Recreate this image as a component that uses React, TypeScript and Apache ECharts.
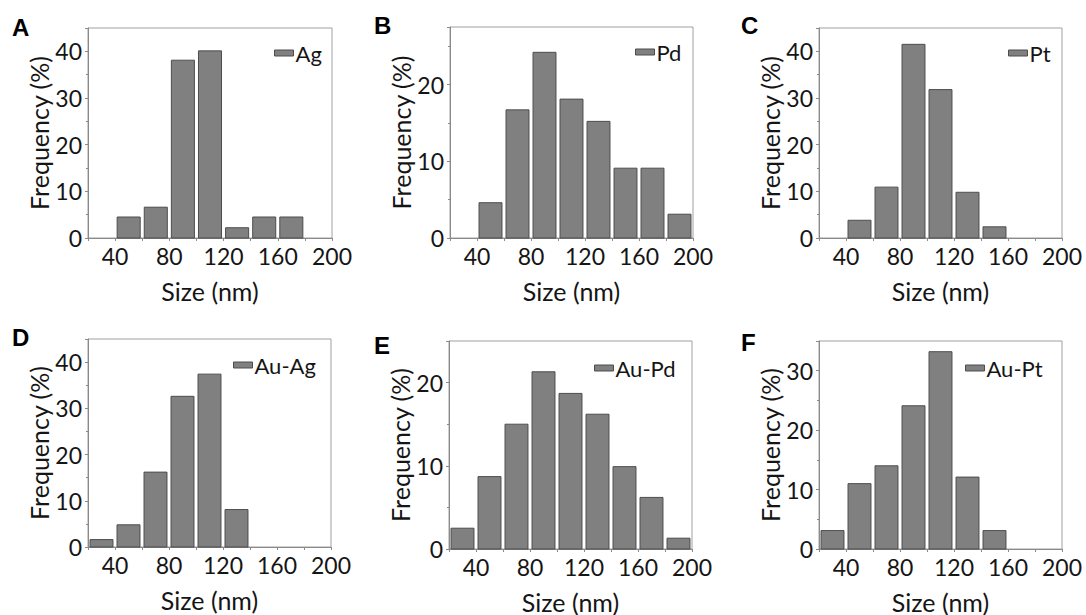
import React, { useEffect, useRef } from "react";
import * as echarts from "echarts";

// ---- data ----
const SIZE_BINS = [30, 50, 70, 90, 110, 130, 150, 170, 190]; // bin centres (nm), bin width 20
const BIN_WIDTH = 20;
const X_TICKS = [40, 80, 120, 160, 200];

const FREQ_AG = [0, 4.5, 6.6, 38.1, 40.1, 2.2, 4.5, 4.5, 0];
const FREQ_PD = [0, 4.6, 16.7, 24.2, 18.1, 15.2, 9.1, 9.1, 3.1];
const FREQ_PT = [0, 3.8, 10.9, 41.5, 31.8, 9.8, 2.4, 0, 0];
const FREQ_AUAG = [1.6, 4.8, 16.2, 32.6, 37.4, 8.1, 0, 0, 0];
const FREQ_AUPD = [2.5, 8.7, 15.0, 21.3, 18.7, 16.2, 9.9, 6.2, 1.3];
const FREQ_AUPT = [3.1, 11.0, 14.0, 24.1, 33.2, 12.1, 3.1, 0, 0];

const PANEL_LETTERS = ["A", "B", "C", "D", "E", "F"];
const PANEL_NAMES = ["Ag", "Pd", "Pt", "Au-Ag", "Au-Pd", "Au-Pt"];
const PANEL_VALUES = [FREQ_AG, FREQ_PD, FREQ_PT, FREQ_AUAG, FREQ_AUPD, FREQ_AUPT];
const PANEL_YMAX = [45, 27.5, 45, 45, 25, 35];
const X_MIN = 20;
const X_MAX = 200;

// ---- layout (pixels) ----
const GRIDS = [
  { left: 88, top: 28, width: 244, height: 210 },
  { left: 450, top: 27, width: 243, height: 211 },
  { left: 819, top: 28, width: 243, height: 210 },
  { left: 88, top: 339, width: 243, height: 208 },
  { left: 449, top: 341, width: 243, height: 211 },
  { left: 819, top: 341, width: 243, height: 211 },
];
const LEGEND_POS = [
  { left: 274, top: 42 },
  { left: 635, top: 41 },
  { left: 1008, top: 42 },
  { left: 233, top: 354 },
  { left: 594, top: 357 },
  { left: 965, top: 357 },
];
const LETTER_POS = [
  { left: 12, top: 15 },
  { left: 374, top: 13 },
  { left: 741, top: 13 },
  { left: 12, top: 325 },
  { left: 374, top: 333 },
  { left: 741, top: 330 },
];

const FONT = "Lato, 'Open Sans', sans-serif";
const BAR_FILL = "#808080";
const BAR_STROKE = "#4d4d4d";
const AXIS_COLOR = "#8a8a8a";
const TEXT_COLOR = "#151515";
const GAP = 1.5; // data units trimmed on each side of a bin

export default function App() {
  const ref = useRef<HTMLDivElement>(null);

  useEffect(() => {
    document.body.style.margin = "0";
    if (!ref.current) return;
    const chart = echarts.init(ref.current, undefined, { renderer: "svg" });

    const grid = GRIDS.map((g) => ({
      ...g,
      show: true,
      borderColor: "#a0a0a0",
      borderWidth: 1,
      backgroundColor: "transparent",
    }));

    const xAxis = GRIDS.map((_, i) => ({
      type: "value",
      gridIndex: i,
      min: X_MIN,
      max: X_MAX,
      interval: 20,
      name: "Size (nm)",
      nameLocation: "middle",
      nameGap: 40,
      nameTextStyle: { fontFamily: FONT, fontSize: 25, color: TEXT_COLOR },
      axisLine: { show: true, lineStyle: { color: AXIS_COLOR, width: 1 } },
      axisTick: { show: true, length: 3, lineStyle: { color: AXIS_COLOR } },
      minorTick: { show: false },
      splitLine: { show: false },
      axisLabel: {
        fontFamily: FONT,
        fontSize: 23,
        color: TEXT_COLOR,
        margin: 6,
        showMinLabel: true,
        showMaxLabel: true,
        formatter: (v: number) => (X_TICKS.indexOf(v) >= 0 ? String(v) : ""),
      },
    }));

    const yAxis = GRIDS.map((_, i) => ({
      type: "value",
      gridIndex: i,
      min: 0,
      max: PANEL_YMAX[i],
      interval: 10,
      name: "Frequency (%)",
      nameLocation: "middle",
      nameGap: 36,
      nameTextStyle: { fontFamily: FONT, fontSize: 25, color: TEXT_COLOR },
      axisLine: { show: true, lineStyle: { color: AXIS_COLOR, width: 1 } },
      axisTick: { show: true, length: 3, lineStyle: { color: AXIS_COLOR } },
      minorTick: { show: true, splitNumber: 2, length: 2, lineStyle: { color: AXIS_COLOR } },
      splitLine: { show: false },
      axisLabel: {
        fontFamily: FONT,
        fontSize: 23,
        color: TEXT_COLOR,
        margin: 6,
        formatter: (v: number) => (v % 10 === 0 ? String(v) : ""),
      },
    }));

    const series = PANEL_VALUES.map((vals, i) => ({
      type: "custom",
      name: PANEL_NAMES[i],
      xAxisIndex: i,
      yAxisIndex: i,
      itemStyle: { color: BAR_FILL, borderColor: BAR_STROKE, borderWidth: 1 },
      encode: { x: 0, y: 1 },
      data: SIZE_BINS.map((s, k) => [s, vals[k]]),
      renderItem: (params: any, api: any) => {
        const x = api.value(0);
        const y = api.value(1);
        if (!y) return null;
        const p0 = api.coord([x - BIN_WIDTH / 2 + GAP, 0]);
        const p1 = api.coord([x + BIN_WIDTH / 2 - GAP, y]);
        return {
          type: "rect",
          shape: { x: p0[0], y: p1[1], width: p1[0] - p0[0], height: p0[1] - p1[1] },
          style: { fill: BAR_FILL, stroke: BAR_STROKE, lineWidth: 1 },
        };
      },
    }));

    const legend = PANEL_NAMES.map((n, i) => ({
      data: [{ name: n, icon: "rect" }],
      left: LEGEND_POS[i].left,
      top: LEGEND_POS[i].top,
      padding: 0,
      itemWidth: 19,
      itemHeight: 6,
      itemStyle: { color: BAR_FILL, borderColor: BAR_STROKE, borderWidth: 1 },
      textStyle: { fontFamily: FONT, fontSize: 22, color: TEXT_COLOR, padding: [0, 0, 10, -3] },
      selectedMode: false,
    }));

    const title = PANEL_LETTERS.map((t, i) => ({
      text: t,
      left: LETTER_POS[i].left,
      top: LETTER_POS[i].top,
      padding: 0,
      textStyle: {
        fontFamily: "'Liberation Sans', Arial, sans-serif",
        fontSize: 24,
        fontWeight: "bold",
        color: "#000",
      },
    }));

    chart.setOption({
      animation: false,
      backgroundColor: "#fff",
      title,
      legend,
      grid,
      xAxis,
      yAxis,
      series,
    } as any);

    return () => chart.dispose();
  }, []);

  return <div ref={ref} style={{ width: 1086, height: 615 }} />;
}
